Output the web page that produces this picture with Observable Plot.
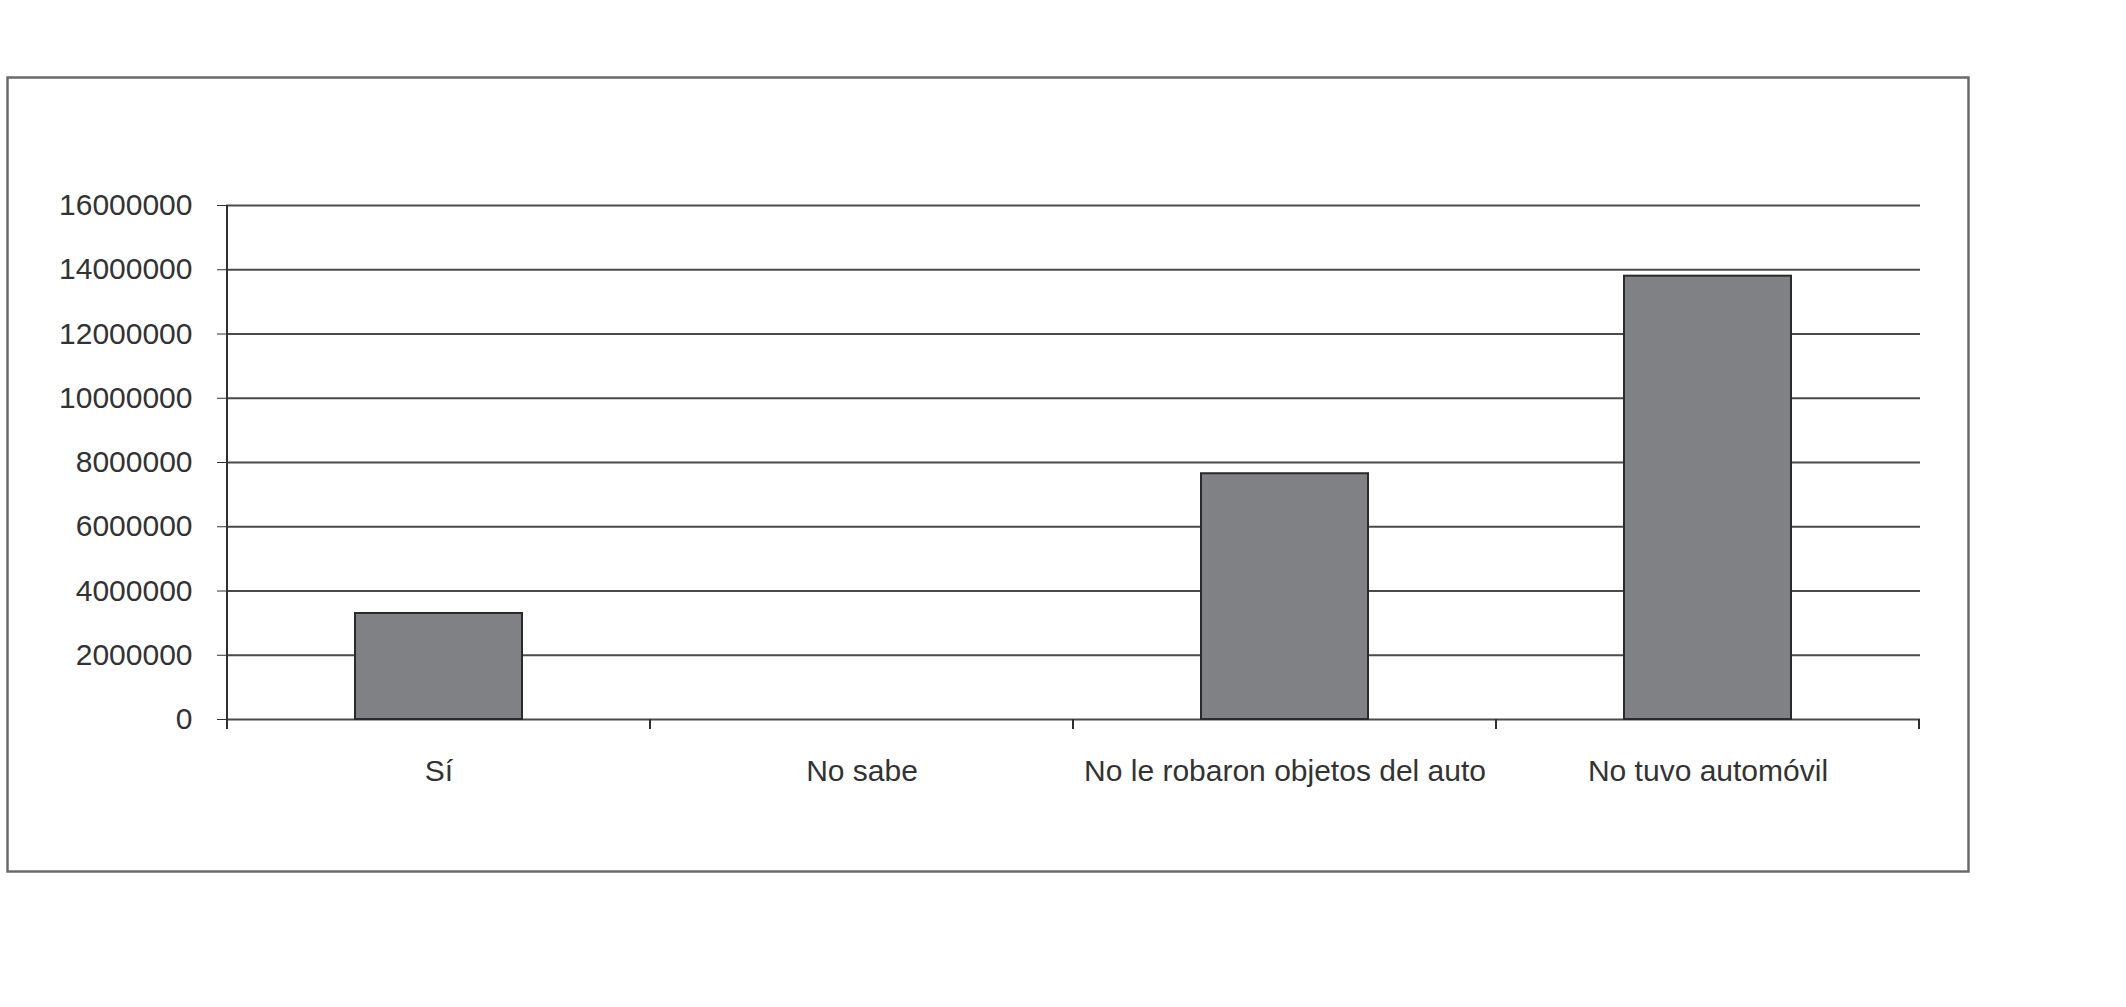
<!DOCTYPE html>
<html>
<head>
<meta charset="utf-8">
<script src="https://cdn.jsdelivr.net/npm/d3@7"></script>
<script src="https://cdn.jsdelivr.net/npm/@observablehq/plot@0.6"></script>
<style>
  html, body { margin: 0; padding: 0; background: #ffffff; }
  #chart { width: 2126px; height: 1007px; }
</style>
</head>
<body>
<div id="chart"></div>
<script>
const categories = ["Sí", "No sabe", "No le robaron objetos del auto", "No tuvo automóvil"];
const values = [3300000, 0, 7650000, 13800000];
const yTicks = [0, 2000000, 4000000, 6000000, 8000000, 10000000, 12000000, 14000000, 16000000];

const data = categories.map((c, i) => ({category: c, value: values[i]}));

const plot = Plot.plot({
  width: 2126,
  height: 1007,
  marginLeft: 226,
  marginRight: 206,
  marginTop: 205,
  marginBottom: 288,
  style: {
    fontFamily: "'Liberation Sans', Arial, sans-serif",
    fontSize: "30px",
    color: "#333333",
    background: "#ffffff"
  },
  x: {domain: categories, padding: 0, label: null},
  y: {domain: [0, 16000000], label: null},
  marks: [
    Plot.frame({stroke: "#6a6a6a", strokeWidth: 2.5, insetLeft: -219, insetRight: -48, insetTop: -128, insetBottom: -152}),
    Plot.gridY(yTicks, {stroke: "#4a4a4a", strokeOpacity: 1, strokeWidth: 2}),
    Plot.barY(data, {x: "category", y: "value", fill: "#808184", stroke: "#2a2a2a", strokeWidth: 2, insetLeft: 128, insetRight: 128}),
    Plot.axisY(yTicks, {tickFormat: d3.format("d"), tickSize: 9, tickPadding: 25, fontSize: 30, label: null}),
    Plot.axisX({tickSize: 0, tickPadding: 40, fontSize: 30, label: null})
  ]
});

document.getElementById("chart").appendChild(plot);

// Category boundary ticks and left axis line, positioned through Plot's own scales
const xs = plot.scale("x");
const ys = plot.scale("y");
const y0 = ys.apply(0);
const yTop = ys.apply(yTicks[yTicks.length - 1]);
const bounds = categories.map(c => xs.apply(c)).concat([xs.apply(categories[categories.length - 1]) + xs.bandwidth]);
const g = d3.select(plot).append("g").attr("stroke", "#2f2f2f").attr("stroke-width", 2);
g.selectAll("line.tick").data(bounds).join("line")
  .attr("class", "tick")
  .attr("x1", d => d).attr("x2", d => d)
  .attr("y1", y0).attr("y2", y0 + 10);
g.append("line")
  .attr("x1", bounds[0]).attr("x2", bounds[0])
  .attr("y1", yTop).attr("y2", y0 + 10);
</script>
</body>
</html>
